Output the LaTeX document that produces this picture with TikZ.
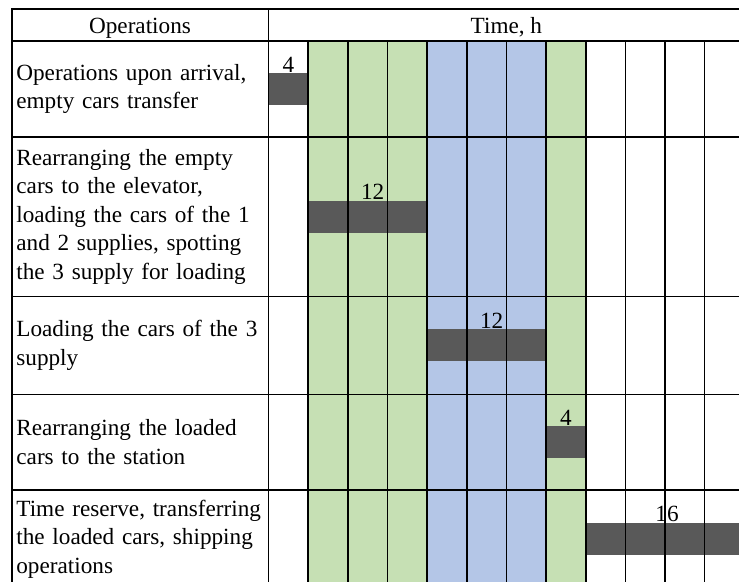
\documentclass[tikz,border=0pt]{standalone}
\usepackage{fontspec}
\setmainfont{Liberation Serif}
\usepackage{tikz}
\usetikzlibrary{positioning}

\definecolor{plangreen}{HTML}{C6E0B4}
\definecolor{planblue}{HTML}{B4C6E7}
\definecolor{taskgray}{HTML}{595959}

\begin{document}
\begin{tikzpicture}[
  x=0.5pt, y=-0.5pt,
  grid/.style={line width=0.8pt},
  head/.style={anchor=base, inner sep=0pt, font=\fontsize{11.6}{14.25}\selectfont},
  oper/.style={anchor=west, align=left, text width=200pt, inner xsep=2pt, inner ysep=0pt,
    font=\fontsize{11.6}{14.25}\selectfont},
  task/.style={fill=taskgray, inner sep=0pt, minimum height=16pt, label distance=2.75pt},
  hours/.style={inner sep=0pt, font=\fontsize{11.6}{14.25}\selectfont}
]
\useasboundingbox (0,0) rectangle (739,582);
\clip (0,0) rectangle (739,582);

% shaded hours of the schedule
\fill[plangreen] (308.15,41) rectangle (427.1,600);
\fill[planblue] (427.1,41) rectangle (546.05,600);
\fill[plangreen] (546.05,41) rectangle (585.7,600);

% durations
\node[task, minimum width=19.825pt, label={[hours]above:4}] (t1) at (288.3,89) {};
\node[task, minimum width=59.475pt, label={[hours,xshift=2.5pt]above:12}] (t2) at (367.6,216.75) {};
\node[task, minimum width=59.475pt, label={[hours,xshift=2.5pt]above:12}] (t3) at (486.6,345) {};
\node[task, minimum width=19.825pt, label={[hours]above:4}] (t4) at (565.9,442) {};
\node[task, minimum width=79.3pt, label={[hours,xshift=1pt]above:16}] (t5) at (665,539) {};

% table lines
\draw[grid] (12,9) rectangle (744.3,600);
\draw[grid] (268.5,9) -- (268.5,600);
\foreach \y in {41,137,296.5,394.5,490}
  \draw[grid] (12,\y) -- (744.3,\y);
\foreach \i in {1,...,11}
  \draw[grid] ({268.5+39.65*\i},41) -- ({268.5+39.65*\i},600);

% header
\node[head] (ops) at (140,33.5) {Operations};
\node[head] (time) at (506.4,33.5) {Time, h};

% operations
\node[oper] (op1) at (12,89) {Operations upon arrival,\\empty cars transfer};
\node[oper] (op2) at (12,216.75) {Rearranging the empty\\cars to the elevator,\\loading the cars of the 1\\and 2 supplies, spotting\\the 3 supply for loading};
\node[oper] (op3) at (12,345.5) {Loading the cars of the 3\\supply};
\node[oper] (op4) at (12,442.25) {Rearranging the loaded\\cars to the station};
\node[oper] (op5) at (12,539) {Time reserve, transferring\\the loaded cars, shipping\\operations};
\end{tikzpicture}
\end{document}
